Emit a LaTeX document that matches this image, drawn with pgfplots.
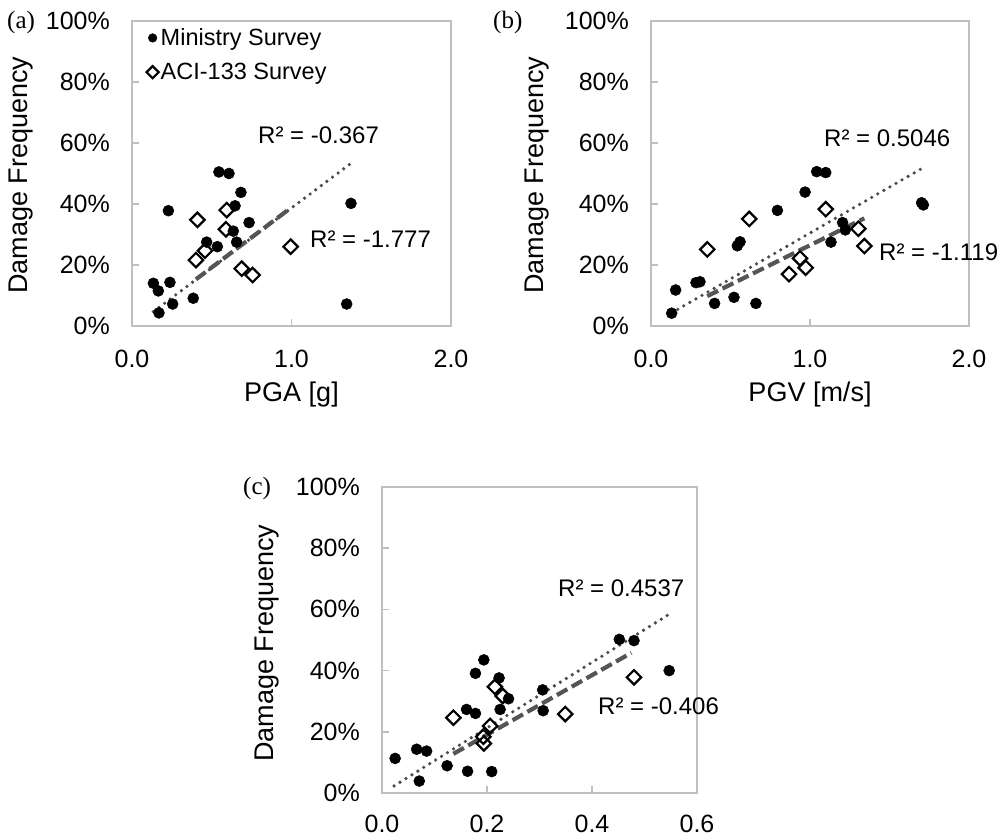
\documentclass[border=0pt]{standalone}
\usepackage{fontspec}
\setmainfont{Liberation Sans}
\newfontfamily\seriffont{Liberation Serif}
\usepackage{pgfplots}
\pgfplotsset{compat=1.18}
\definecolor{boxgray}{RGB}{191,191,191}
\definecolor{trend}{RGB}{85,85,85}
\definecolor{trenddot}{RGB}{75,75,75}
\pgfplotsset{
 myax/.style={
  scale only axis, anchor=south west,
  axis line style={boxgray, line width=1.5pt},
  tick style={boxgray, line width=1.5pt},
  major tick length=7pt,
  tick align=inside,
  xtick pos=bottom, ytick pos=left,
  ymin=0, ymax=1,
  ytick={0,0.2,0.4,0.6,0.8,1},
  yticklabels={0\%,20\%,40\%,60\%,80\%,100\%},
  ticklabel style={font=\fontsize{25}{30}\selectfont, inner sep=0pt},
  yticklabel style={anchor=east, xshift=-22pt},
  xticklabel style={anchor=base, yshift=-42pt},
  label style={font=\fontsize{27}{32}\selectfont},
  ylabel style={rotate=0, anchor=center},
  clip=false,
 },
 mini/.style={only marks, mark=*, mark size=5.5pt, mark options={fill=black, draw=black, line width=0.5pt}},
 aci/.style={only marks, mark=square, mark size=5.1pt, mark options={draw=black, fill=white, line width=2.2pt, rotate=45}},
 dotl/.style={trenddot, line width=3.6pt, dash pattern=on 0pt off 7pt, line cap=round, mark=none},
 dashl/.style={trend, line width=4.2pt, dash pattern=on 12pt off 5pt, mark=none},
}
\begin{document}
\begin{tikzpicture}
\path[use as bounding box] (0pt,0pt) rectangle (1002pt,840pt);
% ---------------- (a) PGA
\begin{axis}[myax, at={(132pt,514pt)}, width=319pt, height=305pt,
  xmin=0, xmax=2, xtick={0,1,2}, xticklabels={0.0,1.0,2.0},
  xlabel={PGA [g]}, xlabel style={at={(axis description cs:0.5,-0.246)}, anchor=base},
  ylabel={Damage Frequency}, ylabel style={at={(axis description cs:-0.348,0.495)}},
  legend style={at={(axis description cs:0.045,0.982)}, anchor=north west, draw=none, fill=none,
    font=\fontsize{23.5}{28}\selectfont, row sep=12pt, inner sep=0pt, nodes={inner sep=2pt}},
  legend cell align=left,
  legend image code/.code={\draw[#1, mark size=4.3pt] plot coordinates {(0pt,0pt)};},
]
\addplot[mini] table {
x y
0.169 0.043
0.134 0.140
0.165 0.115
0.238 0.143
0.255 0.072
0.384 0.091
0.228 0.378
0.468 0.275
0.535 0.260
0.545 0.505
0.608 0.500
0.646 0.394
0.683 0.438
0.635 0.311
0.656 0.275
0.734 0.339
1.373 0.402
1.346 0.072
};
\addlegendentry{Ministry Survey}
\addplot[aci] table {
x y
0.410 0.348
0.401 0.216
0.458 0.247
0.594 0.380
0.589 0.317
0.688 0.188
0.756 0.167
0.995 0.260
};
\addlegendentry{ACI-133 Survey}
\addplot[dotl, forget plot] coordinates {(0.134,0.047) (1.377,0.535)};
\addplot[dashl, forget plot] coordinates {(0.401,0.153) (0.995,0.387)};
\end{axis}
% ---------------- (b) PGV
\begin{axis}[myax, at={(651pt,514pt)}, width=318pt, height=305pt,
  xmin=0, xmax=2, xtick={0,1,2}, xticklabels={0.0,1.0,2.0},
  xlabel={PGV [m/s]}, xlabel style={at={(axis description cs:0.5,-0.246)}, anchor=base},
  ylabel={Damage Frequency}, ylabel style={at={(axis description cs:-0.358,0.495)}},
]
\addplot[mini] table {
x y
0.130 0.042
0.155 0.118
0.283 0.142
0.308 0.145
0.400 0.074
0.522 0.094
0.660 0.074
0.543 0.263
0.560 0.276
0.795 0.379
0.969 0.439
1.042 0.506
1.099 0.503
1.132 0.275
1.205 0.339
1.222 0.315
1.702 0.404
1.713 0.397
};
\addplot[aci] table {
x y
0.354 0.251
0.618 0.351
0.868 0.170
0.937 0.222
0.973 0.191
1.099 0.383
1.304 0.319
1.342 0.262
};
\addplot[dotl] coordinates {(0.130,0.043) (1.705,0.517)};
\addplot[dashl] coordinates {(0.354,0.098) (1.342,0.353)};
\end{axis}
% ---------------- (c)
\begin{axis}[myax, at={(382pt,47pt)}, width=315pt, height=306pt,
  xmin=0, xmax=0.6, xtick={0,0.2,0.4,0.6}, xticklabels={0.0,0.2,0.4,0.6},
  xticklabel style={yshift=2pt},
  ylabel={Damage Frequency}, ylabel style={at={(axis description cs:-0.365,0.49)}},
]
\addplot[mini] table {
x y
0.025 0.113
0.071 0.039
0.066 0.143
0.085 0.137
0.124 0.089
0.163 0.071
0.209 0.070
0.161 0.273
0.178 0.260
0.178 0.391
0.194 0.435
0.223 0.376
0.225 0.273
0.241 0.308
0.306 0.337
0.307 0.269
0.452 0.502
0.480 0.498
0.547 0.400
};
\addplot[aci] table {
x y
0.136 0.246
0.215 0.347
0.230 0.317
0.206 0.219
0.193 0.184
0.194 0.162
0.349 0.258
0.480 0.378
};
\addplot[dotl] coordinates {(0.023,0.023) (0.545,0.582)};
\addplot[dashl] coordinates {(0.136,0.128) (0.475,0.458)};
\end{axis}
% ---------------- texts
\begin{scope}[every node/.style={inner sep=0pt, anchor=west, font=\fontsize{24}{29}\selectfont}]
\node at (258pt,705pt) {R² = -0.367};
\node at (310pt,601pt) {R² = -1.777};
\node at (824pt,702pt) {R² = 0.5046};
\node at (879pt,588pt) {R² = -1.119};
\node at (558pt,252pt) {R² = 0.4537};
\node at (598pt,134pt) {R² = -0.406};
\end{scope}
\begin{scope}[every node/.style={inner sep=0pt, anchor=west, font=\seriffont\fontsize{25}{30}\selectfont}]
\node at (7pt,817pt) {(a)};
\node at (493pt,817pt) {(b)};
\node at (243pt,352pt) {(c)};
\end{scope}
\end{tikzpicture}
\end{document}
